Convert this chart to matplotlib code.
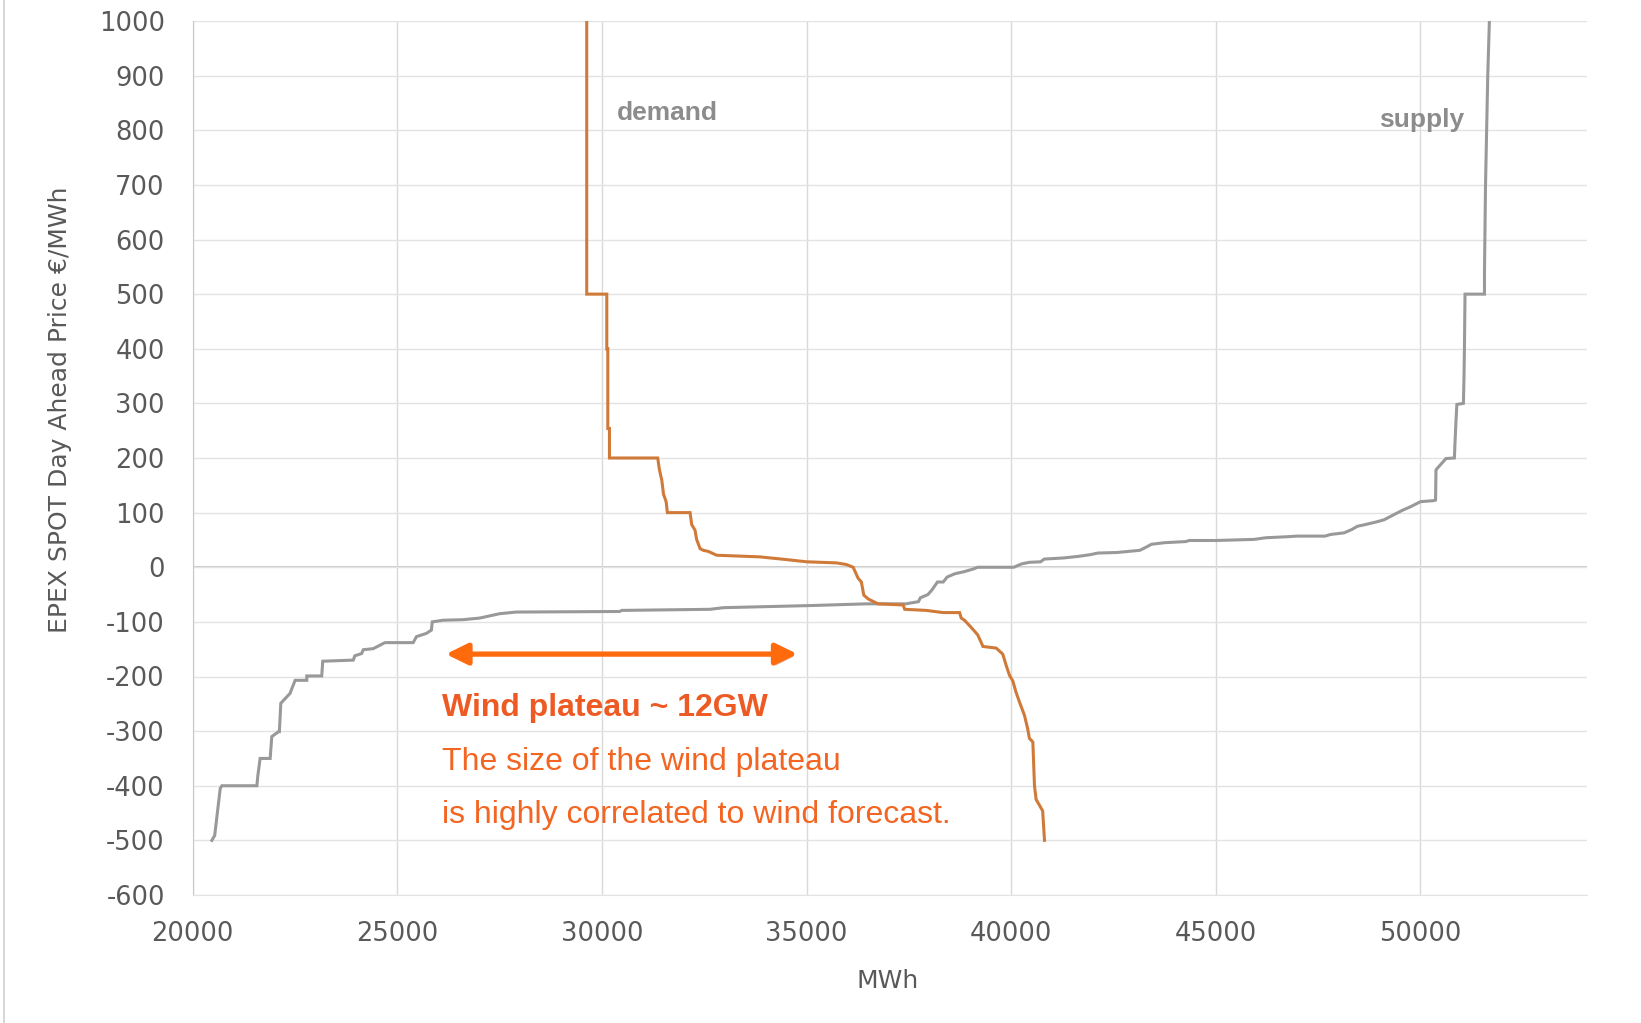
import matplotlib
matplotlib.use("Agg")
import matplotlib.pyplot as plt
from matplotlib.lines import Line2D
from matplotlib import patheffects as pe

plt.rcParams["axes.unicode_minus"] = False

# Aggregated bid curves, EPEX SPOT day-ahead auction (quantity in MWh, price in EUR/MWh)
demand_mwh = [29630, 29630, 30120, 30120, 30145, 30145, 30185, 30185, 31365, 31405,
              31465, 31505, 31570, 31600, 32155, 32195, 32275, 32315, 32400, 32480,
              32600, 32805, 33860, 34510, 35000, 35730, 35975, 36140, 36260, 36340,
              36400, 36505, 36750, 37360, 37400, 37925, 38335, 38740, 38780, 38860,
              38985, 39105, 39185, 39270, 39310, 39635, 39795, 39880, 39960, 40040,
              40120, 40205, 40325, 40405, 40445, 40530, 40570, 40610, 40770, 40815]
demand_price = [1000, 500, 500, 400, 400, 254, 254, 200, 200, 179,
                159, 134, 120, 100, 100, 78, 68, 51, 34, 31,
                29, 22, 19, 14, 10, 8, 5, 0, -20, -27,
                -51, -58, -67, -69, -77, -79, -83, -83, -93, -97,
                -107, -117, -124, -138, -145, -148, -159, -180, -198, -208,
                -229, -247, -271, -296, -313, -320, -400, -425, -446, -500]

supply_mwh = [20470, 20540, 20675, 20715, 21570, 21595, 21650, 21895, 21935, 22100,
              22120, 22155, 22380, 22505, 22790, 22790, 23155, 23180, 23925, 23965,
              24130, 24170, 24415, 24700, 25390, 25470, 25715, 25835, 25855, 26120,
              26610, 27015, 27505, 27910, 30430, 30490, 32640, 32970, 35160, 36460,
              37440, 37500, 37735, 37780, 37965, 38060, 38200, 38340, 38435, 38620,
              38855, 39085, 39180, 40065, 40250, 40440, 40720, 40810, 41280, 41650,
              41930, 42120, 42585, 43145, 43330, 43425, 43750, 44265, 44355, 45010,
              45940, 46220, 46780, 46970, 47670, 47805, 48135, 48320, 48460, 48645,
              48925, 49115, 49345, 49580, 49765, 50000, 50330, 50370, 50380, 50410,
              50625, 50830, 50845, 50870, 50890, 51050, 51065, 51075, 51090, 51565,
              51565, 51590, 51645, 51685]
supply_price = [-500, -491, -405, -400, -400, -381, -350, -350, -310, -301,
                -301, -249, -231, -207, -207, -199, -199, -172, -170, -162,
                -158, -151, -149, -138, -138, -127, -121, -115, -100, -97,
                -96, -93, -85, -82, -81, -79, -77, -74, -70, -67,
                -67, -66, -63, -56, -50, -42, -27, -27, -18, -12,
                -8, -3, 0, 0, 6, 9, 10, 15, 17, 20,
                23, 26, 27, 31, 38, 42, 45, 47, 49, 49,
                51, 54, 56, 57, 57, 60, 63, 69, 75, 78,
                83, 87, 96, 105, 111, 120, 122, 123, 178, 181,
                199, 200, 228, 270, 298, 300, 349, 400, 500, 500,
                539, 698, 900, 1000]

x_ticks = [20000, 25000, 30000, 35000, 40000, 45000, 50000]
y_ticks = list(range(-600, 1001, 100))

plateau_start, plateau_end, plateau_price = 26190, 34780, -159
note_lines = ["Wind plateau ~ 12GW",
              "The size of the wind plateau",
              "is highly correlated to wind forecast."]
note_y = [-257, -356, -454]

W, H = 1641, 1023
fig = plt.figure(figsize=(W / 100, H / 100), dpi=100)
ax = fig.add_axes([192.6 / W, 1 - 895 / H, (1587 - 192.6) / W, (895 - 21) / H])

ax.set_xlim(20000, 54070)
ax.set_ylim(-600, 1000)
ax.set_xticks(x_ticks)
ax.set_yticks(y_ticks)

# grid
ax.grid(True, axis="y", color="#e3e3e3", lw=1.0, zorder=0)
ax.grid(True, axis="x", color="#d9d9d9", lw=1.0, zorder=0)
ax.axhline(0, color="#c6c6c6", lw=1.3, zorder=1)

for s in ["top", "right"]:
    ax.spines[s].set_visible(False)
ax.spines["left"].set_color("#c8c8c8")
ax.spines["bottom"].set_color("#e3e3e3")

ax.tick_params(axis="both", length=0, labelsize=18.5, labelcolor="#595959")
ax.tick_params(axis="x", pad=19)
ax.tick_params(axis="y", pad=20)

# curves
ax.plot(supply_mwh, supply_price, color="#999999", lw=2.2, zorder=3,
        solid_joinstyle="miter")
ax.plot(demand_mwh, demand_price, color="#d07a3a", lw=2.2, zorder=4,
        solid_joinstyle="miter")

ax.text(30358, 831, "demand", fontsize=19, fontweight="bold", color="#8c8c8c",
        family="Liberation Sans", ha="left", va="center")
ax.text(48977, 818, "supply", fontsize=19, fontweight="bold", color="#8c8c8c",
        family="Liberation Sans", ha="left", va="center")

# wind plateau arrow
ax.annotate("", xy=(plateau_end, plateau_price), xytext=(plateau_start, plateau_price),
            arrowprops=dict(arrowstyle="<|-|>,head_length=0.65,head_width=0.32",
                            color="#ff6a0d", lw=3.8, mutation_scale=20,
                            shrinkA=0, shrinkB=0,
                            path_effects=[pe.withSimplePatchShadow(offset=(1.5, -2),
                                                                  shadow_rgbFace="#888888",
                                                                  alpha=0.35)]),
            zorder=5)

ax.text(26087, note_y[0], note_lines[0], fontsize=23, fontweight="bold",
        color="#ee5a24", family="Liberation Sans", ha="left", va="center")
for line, yv in zip(note_lines[1:], note_y[1:]):
    ax.text(26087, yv, line, fontsize=23, color="#f26522",
            family="Liberation Sans", ha="left", va="center")

# axis titles
fig.text(60 / W, 1 - 409.7 / H, "EPEX SPOT Day Ahead Price €/MWh", rotation=90,
         ha="center", va="center", fontsize=18, color="#595959")
fig.text(887.5 / W, 1 - 980.7 / H, "MWh", ha="center", va="center",
         fontsize=18, color="#595959")

# thin frame line on the left edge
fig.add_artist(Line2D([4 / W, 4 / W], [0, 1], transform=fig.transFigure,
                      color="#d0d0d0", lw=1.2))

fig.savefig("out.png", dpi=100, facecolor="white")
